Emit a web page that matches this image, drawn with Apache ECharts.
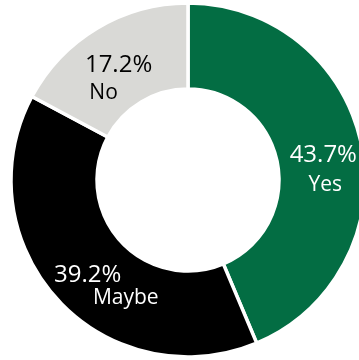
<!DOCTYPE html>
<html>
<head>
<meta charset="utf-8">
<script src="https://cdn.jsdelivr.net/npm/echarts@6/dist/echarts.min.js"></script>
<style>
  html, body { margin: 0; padding: 0; background: #ffffff; }
  #chart { width: 359px; height: 360px; }
</style>
</head>
<body>
<div id="chart"></div>
<script>
// Survey answers, share of respondents (%)
const categories = ['Yes', 'Maybe', 'No'];
const shares = [43.7, 39.2, 17.2];
const sliceColors = ['#036d43', '#000000', '#d9d9d6'];
const labelColors = ['#ffffff', '#ffffff', '#000000'];

// label nudges per slice (px): percentage line and answer line
const pctOffsets = [[1, 2], [1, 3], [1, 3]];
const nameOffsets = [[3, 32], [39, 26], [-14, 31]];

const center = [188, 180];
const radius = [91, 177];
const font = '"Open Sans", "Liberation Sans", sans-serif';

const chart = echarts.init(document.getElementById('chart'), null, { renderer: 'canvas' });

const ringData = categories.map((name, i) => ({
  name: name,
  value: shares[i],
  itemStyle: { color: sliceColors[i] },
  label: { offset: pctOffsets[i], color: labelColors[i] }
}));

const nameData = categories.map((name, i) => ({
  name: name,
  value: shares[i],
  label: { offset: nameOffsets[i], color: labelColors[i] }
}));

chart.setOption({
  animation: false,
  series: [
    {
      type: 'pie',
      center: center,
      radius: radius,
      startAngle: 90,
      clockwise: true,
      silent: true,
      itemStyle: { borderColor: '#ffffff', borderWidth: 3.5 },
      label: {
        show: true,
        position: 'inside',
        formatter: p => p.value.toFixed(1) + '%',
        fontFamily: font,
        fontSize: 24
      },
      labelLine: { show: false },
      emphasis: { disabled: true },
      data: ringData
    },
    {
      type: 'pie',
      center: center,
      radius: radius,
      startAngle: 90,
      clockwise: true,
      silent: true,
      itemStyle: { color: 'rgba(0,0,0,0)', borderWidth: 0 },
      label: {
        show: true,
        position: 'inside',
        formatter: '{b}',
        fontFamily: font,
        fontSize: 21
      },
      labelLine: { show: false },
      emphasis: { disabled: true },
      data: nameData
    }
  ]
});
</script>
</body>
</html>
